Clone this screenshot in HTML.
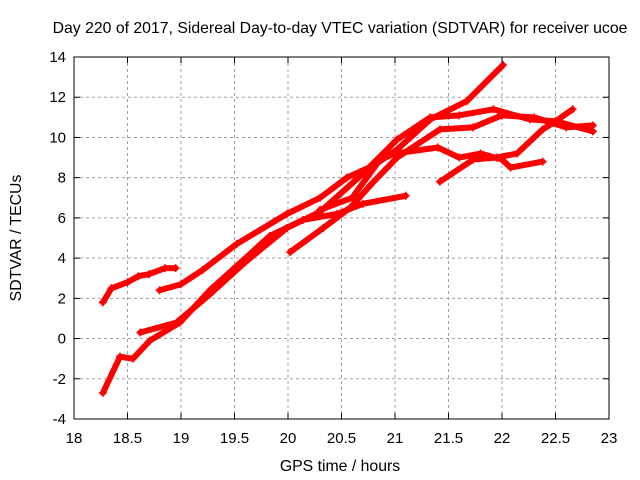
<!DOCTYPE html>
<html><head><meta charset="utf-8"><style>
body{margin:0;background:#fff;}
svg{display:block;font-family:"Liberation Sans",sans-serif;}
</style></head><body>
<svg id="chart" width="640" height="480">
<text x="340" y="33" text-anchor="middle" font-size="15.8">Day 220 of 2017, Sidereal Day-to-day VTEC variation (SDTVAR) for receiver ucoe</text>
<g id="grid"></g>
<g id="series"></g>
<rect x="74" y="57" width="535" height="362" fill="none" stroke="#000" stroke-width="1"/>
<g id="axes"></g>
<text x="340" y="471" text-anchor="middle" font-size="15.8">GPS time / hours</text>
<text transform="translate(21,238) rotate(-90)" text-anchor="middle" font-size="15.8">SDTVAR / TECUs</text>
</svg>
<script>
const xTicks=[18,18.5,19,19.5,20,20.5,21,21.5,22,22.5,23];
const xTickLabels=["18","18.5","19","19.5","20","20.5","21","21.5","22","22.5","23"];
const yTicks=[-4,-2,0,2,4,6,8,10,12,14];
const yTickLabels=["-4","-2","0","2","4","6","8","10","12","14"];
const track1X=[18.27,18.35,18.5,18.6,18.7,18.85,18.95];
const track1Y=[1.8,2.5,2.8,3.1,3.2,3.5,3.5];
const track2X=[18.8,19.0,19.2,19.52,19.99,20.3,20.55,20.8,21.02,21.33,21.67,22.01];
const track2Y=[2.4,2.7,3.4,4.7,6.2,7.0,8.0,8.6,9.4,10.9,11.8,13.6];
const track3X=[18.27,18.43,18.55,18.71,18.99,19.27,19.52,19.83,20.14,20.46,20.7,21.1];
const track3Y=[-2.7,-0.9,-1.0,-0.1,0.8,2.4,3.6,5.1,5.9,6.2,6.7,7.1];
const track4X=[18.62,18.96,19.27,19.6,19.99,20.3,20.7,21.02,21.33,21.6,21.92,22.26,22.51,22.85];
const track4Y=[0.3,0.8,2.2,3.8,5.5,6.3,8.2,9.9,11.0,11.1,11.4,10.9,10.8,10.3];
const track5X=[20.02,20.33,20.58,20.8,21.02,21.42,21.73,22.0,22.3,22.6,22.85];
const track5Y=[4.3,5.5,6.5,7.8,9.0,10.4,10.5,11.1,11.0,10.5,10.6];
const track6X=[20.3,20.6,20.86,21.0,21.4,21.6,21.8,22.0,22.08,22.38];
const track6Y=[6.4,7.0,8.9,9.2,9.5,9.0,9.2,8.9,8.5,8.8];
const track7X=[21.42,21.73,21.95,22.14,22.38,22.5,22.66];
const track7Y=[7.8,8.9,9.0,9.2,10.4,10.8,11.4];
const tracksX=[track1X,track2X,track3X,track4X,track5X,track6X,track7X];
const tracksY=[track1Y,track2Y,track3Y,track4Y,track5Y,track6Y,track7Y];
const NS="http://www.w3.org/2000/svg";
const L=74,R=609,T=57,B=419;
const sx=v=>L+(v-18)/5*(R-L);
const sy=v=>B-(v+4)/18*(B-T);
function mk(tag,attrs,parent){const e=document.createElementNS(NS,tag);for(const k in attrs)e.setAttribute(k,attrs[k]);parent.appendChild(e);return e;}
const grid=document.getElementById('grid'),axes=document.getElementById('axes'),ser=document.getElementById('series');
xTicks.forEach((t,i)=>{const x=sx(t);
 if(i>0&&i<xTicks.length-1){const g=mk('line',{x1:x,x2:x,y1:T,y2:B,stroke:'#a0a0a0','stroke-dasharray':'3,3'},grid);}
 mk('line',{x1:x,x2:x,y1:B,y2:B-6,stroke:'#000'},axes);mk('line',{x1:x,x2:x,y1:T,y2:T+6,stroke:'#000'},axes);
 const tx=mk('text',{x:x,y:B+24,'text-anchor':'middle','font-size':'15'},axes);tx.textContent=xTickLabels[i];
 });
yTicks.forEach((t,i)=>{const y=sy(t);
 if(i>0&&i<yTicks.length-1){const g=mk('line',{x1:L,x2:R,y1:y,y2:y,stroke:'#a0a0a0','stroke-dasharray':'3,3'},grid);}
 mk('line',{x1:L,x2:L+6,y1:y,y2:y,stroke:'#000'},axes);mk('line',{x1:R,x2:R-6,y1:y,y2:y,stroke:'#000'},axes);
 const tx=mk('text',{x:L-8,y:y+5,'text-anchor':'end','font-size':'15'},axes);tx.textContent=yTickLabels[i];
 });
tracksX.forEach((xs,k)=>{const ys=tracksY[k];
 const pts=xs.map((v,i)=>sx(v)+','+sy(ys[i])).join(' ');
 const p=mk('polyline',{points:pts,fill:'none',stroke:'#ff0000','stroke-width':'6','stroke-linejoin':'round','stroke-linecap':'round'},ser);
 
 
 xs.forEach((v,i)=>{const x=sx(v),y=sy(ys[i]);
  const m=mk('path',{d:`M${x-4},${y}H${x+4}M${x},${y-4}V${y+4}`,stroke:'#ff0000','stroke-width':'1.5'},ser);
  
  });});
</script>
</body></html>
